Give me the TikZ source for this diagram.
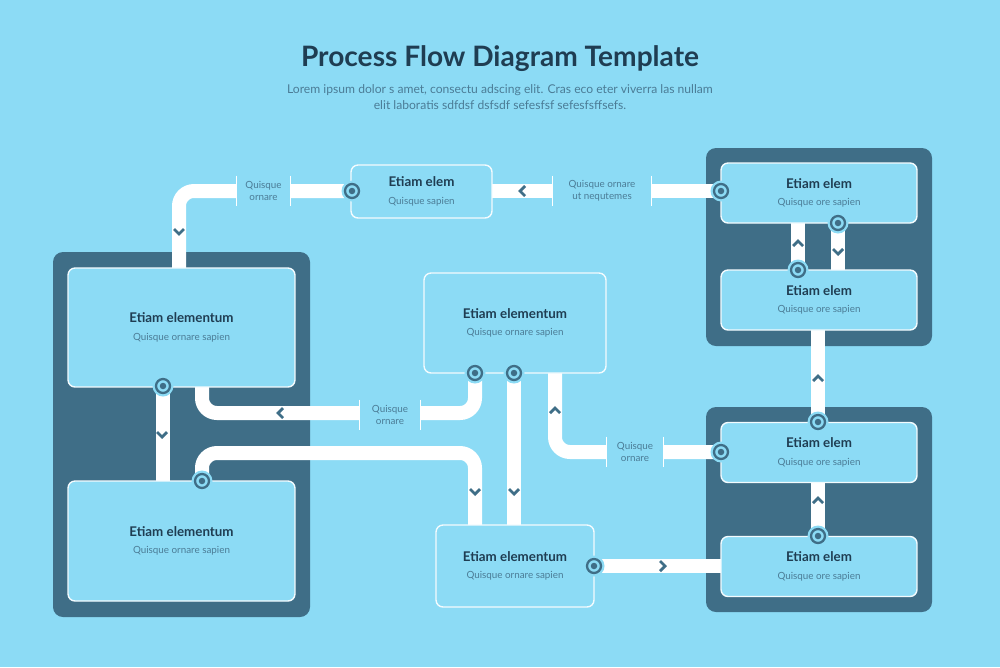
\documentclass[tikz,border=0pt]{standalone}
\usepackage{fontspec}
\setmainfont{Lato}
\usetikzlibrary{calc}
\definecolor{bg}{HTML}{8CDBF5}
\definecolor{panel}{HTML}{3F6E87}
\definecolor{ink}{HTML}{1F3D52}
\definecolor{soft}{HTML}{4B7C96}
\tikzstyle{tray}=[fill=panel,rounded corners=0.2cm]
\tikzstyle{box}=[draw=white!90!bg,line width=0.8pt,fill=bg,rounded corners=0.14cm,align=center,inner sep=0]
\tikzstyle{pipe}=[white,line width=0.28cm,rounded corners=0.3cm]
\tikzstyle{gap}=[fill=bg,minimum height=0.6cm,inner sep=0,align=center,text=soft,font=\fontsize{5.6}{6.6}\selectfont]
\tikzstyle{tick}=[white,line width=0.9pt]
\tikzstyle{pin}=[circle,fill=bg,minimum size=0.42cm,inner sep=0]
\newcommand{\boxtext}[2]{{\fontsize{7.6}{9}\selectfont\bfseries\color{ink}#1}\\[-2pt]{\fontsize{5.6}{7}\selectfont\color{soft}#2}}
\tikzset{chev/.pic={\draw[draw=panel,line width=1.6pt] (-5,-3) -- (0,2) -- (5,-3);}}

\begin{document}
\begin{tikzpicture}[x=0.02cm,y=-0.02cm]
  \fill[bg] (0,0) rectangle (1000,667);
  % TITLE
  \node[font=\fontsize{16}{18}\selectfont\bfseries,text=ink] (title) at (500,59) {Process Flow Diagram Template};
  \node[font=\fontsize{6.9}{9}\selectfont,text=soft,align=center] (sub) at (500,97)
    {Lorem ipsum dolor s amet, consectu adscing elit. Cras eco eter viverra las nullam\\elit laboratis sdfdsf dsfsdf sefesfsf sefesfsffsefs.};

  % PANELS
  \path[tray] (53,252) rectangle (310,617);
  \path[tray] (706,148) rectangle (932,346);
  \path[tray] (706,407) rectangle (932,612);

  % PINS (positions)
  \coordinate (pT) at (352,191);
  \coordinate (pR1) at (721,191);
  \coordinate (pR1b) at (838,223);
  \coordinate (pR2) at (798,270);
  \coordinate (pR3) at (818,422);
  \coordinate (pR3l) at (721,452);
  \coordinate (pR4) at (818,536);
  \coordinate (pL1) at (163,386);
  \coordinate (pL2) at (202,481);
  \coordinate (pC1) at (475,373);
  \coordinate (pC2) at (514,373);
  \coordinate (pB) at (594,566);

  % PIPES
  \draw[pipe] (179,268) |- (pT);
  \draw[pipe] (pR1) -- (492,191);
  \draw[pipe] (798,223) -- (pR2);
  \draw[pipe] (pR1b) -- (838,270);
  \draw[pipe] (818,330) -- (pR3);
  \draw[pipe] (818,483) -- (pR4);
  \draw[pipe] (pL1) -- (163,481);
  \draw[pipe] (202,387) -- (202,413) -- (475,413) -- (pC1);
  \draw[pipe] (pL2) -- (202,453) -- (475,453) -- (475,525);
  \draw[pipe] (pC2) -- (514,525);
  \draw[pipe] (555,373) |- (pR3l);
  \draw[pipe] (pB) -- (721,566);

  % BOXES
  \node[box,minimum width=4.54cm,minimum height=2.38cm] (L1) at (181.5,327.5) {\boxtext{Etiam elementum}{Quisque ornare sapien}};
  \node[box,minimum width=4.54cm,minimum height=2.4cm] (L2) at (181.5,541) {\boxtext{Etiam elementum}{Quisque ornare sapien}};
  \node[box,minimum width=2.82cm,minimum height=1.06cm] (T) at (421.5,191.5) {\boxtext{Etiam elem}{Quisque sapien}};
  \node[box,minimum width=3.64cm,minimum height=2cm] (C) at (515,323) {\boxtext{Etiam elementum}{Quisque ornare sapien}};
  \node[box,minimum width=3.16cm,minimum height=1.64cm] (B) at (515,566) {\boxtext{Etiam elementum}{Quisque ornare sapien}};
  \foreach \n/\y in {R1/193,R2/300,R3/452.5,R4/566.5}
    \node[box,minimum width=3.92cm,minimum height=1.2cm] (\n) at (819,\y) {\boxtext{Etiam elem}{Quisque ore sapien}};

  % LABELS
  \node[gap,minimum width=1.06cm] (g1) at (263.5,191) {Quisque\\ornare};
  \node[gap,minimum width=1.96cm] (g2) at (602,191) {Quisque ornare\\ut nequtemes};
  \node[gap,minimum width=1.2cm] (g3) at (390,415) {Quisque\\ornare};
  \node[gap,minimum width=1.12cm] (g4) at (635,452) {Quisque\\ornare};
  \foreach \g in {g1,g2,g3,g4}
    \draw[tick] (\g.north west) -- (\g.south west) (\g.north east) -- (\g.south east);

  % CHEVRONS
  \foreach \p/\a in {{179,232}/0,{162,435}/0,{475,492}/0,{514,492}/0,{838,252}/0,
                     {798,243}/180,{818,378}/180,{818,500}/180,{555,410}/180,
                     {522,191}/-90,{280,413}/-90,{663,566}/90}
    \pic[rotate=\a] at (\p) {chev};

  % PIN MARKS
  \foreach \c in {pT,pR1,pR1b,pR2,pR3,pR3l,pR4,pL1,pL2,pC1,pC2,pB}{
    \node[pin] (m\c) at (\c) {};
    \draw[draw=panel,line width=1.3pt] (\c) circle (0.14cm);
    \fill[panel] (\c) circle (0.065cm);
  }
\end{tikzpicture}
\end{document}
